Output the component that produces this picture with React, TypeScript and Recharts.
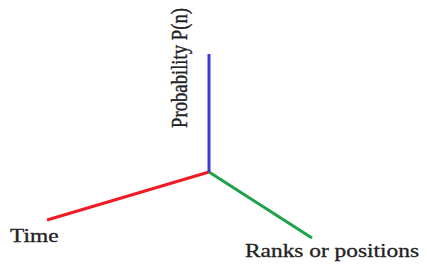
import { LineChart, Line, XAxis, YAxis } from 'recharts'

// axis arrows of the sketch, origin at (0, 0), in plot units
const probabilityAxis = [
  { x: 0, y: 0 },
  { x: 0, y: 118 }
]
const timeAxis = [
  { x: 0, y: 0 },
  { x: -162, y: -48 }
]
const rankAxis = [
  { x: 0, y: 0 },
  { x: 103, y: -66 }
]

const xDomain = [-209, 218]
const yDomain = [-96, 172]

const labels = {
  probability: 'Probability P(n)',
  time: 'Time',
  ranks: 'Ranks or positions'
}

const font = '"Liberation Serif", "Times New Roman", serif'
const noDot = () => <g />

export default function App() {
  return (
    <div style={{ position: 'absolute', left: 0, top: 0, background: '#fff' }}>
      <LineChart width={427} height={268} margin={{ top: 0, right: 0, bottom: 0, left: 0 }}>
        <XAxis type="number" dataKey="x" domain={xDomain} hide allowDataOverflow />
        <YAxis type="number" dataKey="y" domain={yDomain} hide allowDataOverflow />
        <Line data={timeAxis} dataKey="y" stroke="#ee1c24" strokeWidth={3} dot={noDot} activeDot={false} isAnimationActive={false} />
        <Line data={rankAxis} dataKey="y" stroke="#1ea24a" strokeWidth={3} dot={noDot} activeDot={false} isAnimationActive={false} />
        <Line data={probabilityAxis} dataKey="y" stroke="#3a3ad8" strokeWidth={3} dot={noDot} activeDot={false} isAnimationActive={false} />
        <text
          transform="translate(187,128) scale(1.3,1) rotate(-90)"
          fontFamily={font}
          fontSize={18}
          fill="#222"
          stroke="#222"
          strokeWidth={0.3}
          textLength={120}
          lengthAdjust="spacingAndGlyphs"
        >
          {labels.probability}
        </text>
        <text transform="translate(10,242) scale(1.3,1)" fontFamily={font} fontSize={18} fill="#222" stroke="#222" strokeWidth={0.3}>
          {labels.time}
        </text>
        <text transform="translate(245,257) scale(1.3,1)" fontFamily={font} fontSize={18} fill="#222" stroke="#222" strokeWidth={0.3}>
          {labels.ranks}
        </text>
      </LineChart>
    </div>
  )
}
